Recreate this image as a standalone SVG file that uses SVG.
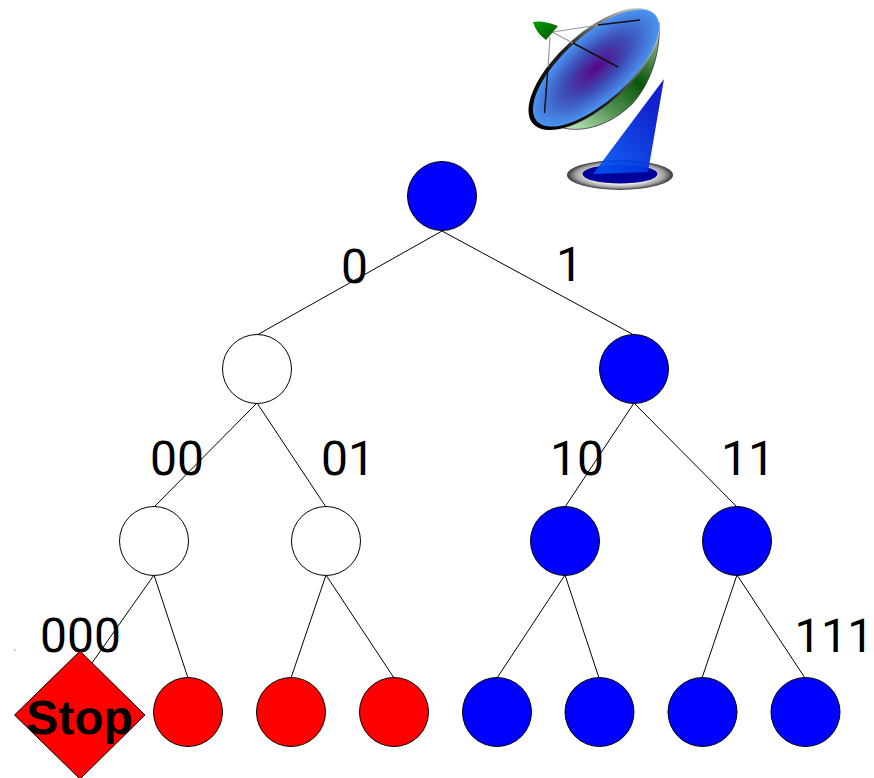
<svg xmlns="http://www.w3.org/2000/svg" width="874" height="778" viewBox="0 0 874 778">
<style>
text{text-rendering:geometricPrecision}
.n{stroke:#000;stroke-width:1}
.b{fill:#00f}.w{fill:#fff}.r{fill:#f00}
.l{font-family:Roboto,"Liberation Sans",Arial,sans-serif;font-size:48px;fill:#000}
#connectors line{stroke:#000;stroke-width:1}
</style>
<defs>
<radialGradient id="dishG" cx="0.5" cy="0.5" r="0.5"><stop offset="0" stop-color="#5a0585"/><stop offset="0.5" stop-color="#3c4cb4"/><stop offset="1" stop-color="#4a94f2"/></radialGradient>
<linearGradient id="bowlH" gradientUnits="userSpaceOnUse" x1="655" y1="35" x2="580" y2="135"><stop offset="0" stop-color="#8fb88f"/><stop offset="0.38" stop-color="#0a550a"/><stop offset="0.68" stop-color="#4f8f4f"/><stop offset="1" stop-color="#b8e4b4"/></linearGradient>
<linearGradient id="coneG" gradientUnits="userSpaceOnUse" x1="605" y1="165" x2="662" y2="115"><stop offset="0" stop-color="#0050ee"/><stop offset="1" stop-color="#0010cc"/></linearGradient>
<linearGradient id="rimG" x1="0" y1="0" x2="1" y2="0"><stop offset="0" stop-color="#000"/><stop offset="0.45" stop-color="#222"/><stop offset="0.8" stop-color="#999"/><stop offset="1" stop-color="#ddd"/></linearGradient>
<radialGradient id="baseG" cx="0.5" cy="0.5" r="0.5"><stop offset="0.6" stop-color="#f2f2f2"/><stop offset="0.85" stop-color="#999"/><stop offset="1" stop-color="#333"/></radialGradient>
<linearGradient id="hornG" x1="0" y1="0" x2="1" y2="1"><stop offset="0" stop-color="#00a000"/><stop offset="1" stop-color="#005000"/></linearGradient>
</defs>
<rect x="14" y="649.500" width="1.500" height="1.500" fill="#aaa"/>
<g id="dish">
<ellipse cx="620" cy="175" rx="53" ry="15" fill="url(#baseG)"/>
<ellipse cx="620" cy="174" rx="37.500" ry="9.500" fill="#00009a"/>
<path d="M659 22 C661 50 652 82 632 104 C612 124 585 133 563 128 Z" fill="url(#bowlH)" stroke="#222" stroke-width="0.700"/>
<ellipse cx="594" cy="69" rx="82" ry="36" transform="rotate(-42 594 69)" fill="url(#rimG)"/>
<ellipse cx="596" cy="68" rx="79.500" ry="33" transform="rotate(-42 596 68)" fill="url(#dishG)"/>
<path d="M553 32 L598 25 M552 32 L573 43 M550 37 L548 67" fill="none" stroke="#999" stroke-width="1.200"/>
<path d="M598 25 L640 20 M573 43 L618 67 M548 67 L544.500 113" fill="none" stroke="#111" stroke-width="1.500"/>
<path d="M533 22 Q543 20 558 26 L546 40 Q536 33 533 22 Z" fill="url(#hornG)"/>
<path d="M664 79 L648 172 L593 174 Z" fill="url(#coneG)" fill-opacity="0.93"/>
</g>
<g id="connectors">
<line x1="442" y1="231" x2="257" y2="335"/>
<line x1="442" y1="231" x2="634" y2="335"/>
<line x1="257" y1="403" x2="154" y2="507"/>
<line x1="257" y1="403" x2="326" y2="507"/>
<line x1="634" y1="403" x2="565" y2="507"/>
<line x1="634" y1="403" x2="737" y2="507"/>
<line x1="154" y1="575" x2="80" y2="680"/>
<line x1="154" y1="575" x2="188" y2="678"/>
<line x1="326" y1="575" x2="291" y2="678"/>
<line x1="326" y1="575" x2="394" y2="678"/>
<line x1="565" y1="575" x2="497" y2="678"/>
<line x1="565" y1="575" x2="599" y2="678"/>
<line x1="737" y1="575" x2="702" y2="678"/>
<line x1="737" y1="575" x2="805" y2="678"/>
</g>
<g id="n1"><circle class="n b" cx="442" cy="196" r="34.500"/></g>
<g id="n2"><circle class="n w" cx="257" cy="369" r="34.500"/></g>
<g id="n3"><circle class="n b" cx="634" cy="369" r="34.500"/></g>
<g id="n4"><circle class="n w" cx="154" cy="541" r="34.500"/></g>
<g id="n5"><circle class="n w" cx="326" cy="541" r="34.500"/></g>
<g id="n6"><circle class="n b" cx="565" cy="541" r="34.500"/></g>
<g id="n7"><circle class="n b" cx="737" cy="541" r="34.500"/></g>
<g id="n9"><circle class="n r" cx="188" cy="712" r="34.500"/></g>
<g id="n10"><circle class="n r" cx="291" cy="712" r="34.500"/></g>
<g id="n11"><circle class="n r" cx="394" cy="712" r="34.500"/></g>
<g id="n12"><circle class="n b" cx="497" cy="712" r="34.500"/></g>
<g id="n13"><circle class="n b" cx="599.500" cy="712" r="34.500"/></g>
<g id="n14"><circle class="n b" cx="702.500" cy="712" r="34.500"/></g>
<g id="n15"><circle class="n b" cx="805.500" cy="712" r="34.500"/></g>
<g id="labels">
<text class="l" x="341" y="283">0</text>
<text class="l" x="556" y="281">1</text>
<text class="l" x="150" y="475">00</text>
<text class="l" x="321" y="475">01</text>
<text class="l" x="550" y="475">10</text>
<text class="l" x="721" y="475">11</text>
<text class="l" x="40" y="652">000</text>
<text class="l" style="font-size:47px" x="794.500" y="652">111</text>
</g>
<g id="n8">
<polygon class="n r" points="80,651 145,715 80,779 14.500,715"/>
<text x="79.500" y="734" text-anchor="middle" style="font-family:'Liberation Sans',Arial,sans-serif;font-size:48px;font-weight:bold">Stop</text>
</g>
</svg>
